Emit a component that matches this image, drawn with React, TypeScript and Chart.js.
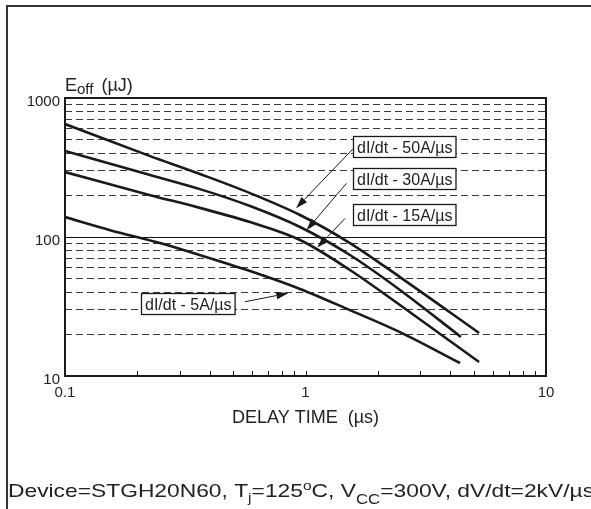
import React, { useEffect, useRef } from "react";
import { Chart, registerables } from "chart.js";

Chart.register(...registerables);

// ---------- data (delay time in µs, Eoff in µJ) ----------
const delayTime50 = [0.1, 0.226, 0.364, 0.588, 0.949, 1.53, 2.47, 5.27];
const eoff50 = [650, 382, 284, 207, 144, 90.5, 51.5, 20.4];

const delayTime30 = [0.1, 0.226, 0.364, 0.588, 0.949, 1.53, 2.47, 4.43];
const eoff30 = [416, 279, 221, 167, 118, 74.2, 41.6, 19.1];

const delayTime15 = [0.1, 0.226, 0.364, 0.588, 0.949, 1.53, 2.47, 5.27];
const eoff15 = [293, 200, 162, 128, 95.1, 57.9, 32.4, 12.6];

const delayTime5 = [0.1, 0.154, 0.248, 0.341, 0.588, 0.949, 1.53, 2.47, 4.39];
const eoff5 = [139, 112, 90.5, 76.7, 56.9, 42.3, 29.8, 20.7, 12.4];

const seriesLabels = ["dI/dt - 50A/µs", "dI/dt - 30A/µs", "dI/dt - 15A/µs", "dI/dt - 5A/µs"];

// ticks
const xTickValues = [0.1, 0.2, 0.3, 0.4, 0.5, 0.6, 0.7, 0.8, 0.9, 1, 2, 3, 4, 5, 6, 7, 8, 9, 10];
const xLabelValues = [0.1, 1, 10];
const yTickValues = [10, 20, 30, 40, 50, 60, 70, 80, 90, 100, 200, 300, 400, 500, 600, 700, 800, 900, 1000];
const yLabelValues = [10, 100, 1000];

// annotation anchors (data units): label box left / vertical centre, arrow tail, arrow tip
const labelBoxX = [1.58, 1.58, 1.58, 0.207];
const labelBoxY = [448, 264, 146, 33.2];
const arrowTailX = [1.57, 1.48, 1.46, 0.56];
const arrowTailY = [428, 243, 136, 34.2];
const arrowTipX = [0.913, 1.01, 1.12, 0.848];
const arrowTipY = [161, 112, 84, 39.4];

const xTitle = "DELAY TIME  (µs)";
const FONT = "'Liberation Sans', Arial, Helvetica, sans-serif";
const INK = "#1a1a1a";

type Part = { t: string; size: number; dy: number; gap?: number };

function drawParts(ctx: CanvasRenderingContext2D, parts: Part[], x: number, y: number) {
  let cx = x;
  for (const p of parts) {
    cx += p.gap || 0;
    ctx.font = `${p.size}px ${FONT}`;
    ctx.fillText(p.t, cx, y + p.dy);
    cx += ctx.measureText(p.t).width;
  }
  return cx;
}

const decorPlugin = {
  id: "decor",
  beforeDraw(chart: any) {
    const ctx: CanvasRenderingContext2D = chart.ctx;
    ctx.save();
    ctx.fillStyle = "#ffffff";
    ctx.fillRect(0, 0, chart.width, chart.height);
    // outer page frame (top and left)
    ctx.strokeStyle = "#333";
    ctx.lineWidth = 2;
    ctx.beginPath();
    ctx.moveTo(7, chart.height);
    ctx.lineTo(7, 6);
    ctx.lineTo(chart.width, 6);
    ctx.stroke();
    ctx.restore();
  },
  afterDatasetsDraw(chart: any) {
    const ctx: CanvasRenderingContext2D = chart.ctx;
    const { left, right, top, bottom } = chart.chartArea;
    const xs = chart.scales.x;
    const ys = chart.scales.y;
    ctx.save();
    // plot frame
    ctx.strokeStyle = INK;
    ctx.lineWidth = 2;
    ctx.strokeRect(left, top, right - left, bottom - top);
    // inward minor ticks on the x axis
    ctx.lineWidth = 1;
    ctx.beginPath();
    for (const v of xTickValues) {
      if (v === xTickValues[0]) continue;
      const px = Math.round(xs.getPixelForValue(v)) + 0.5;
      ctx.moveTo(px, bottom);
      ctx.lineTo(px, bottom - 5);
    }
    ctx.stroke();

    // annotations
    ctx.font = `16px ${FONT}`;
    for (let i = 0; i < seriesLabels.length; i++) {
      const bx = xs.getPixelForValue(labelBoxX[i]);
      const by = ys.getPixelForValue(labelBoxY[i]);
      const tw = ctx.measureText(seriesLabels[i]).width;
      const bw = tw + 7;
      const bh = 21;
      const x0 = Math.round(bx) + 0.5;
      const y0 = Math.round(by - bh / 2) + 0.5;
      // arrow
      const tx = xs.getPixelForValue(arrowTailX[i]);
      const ty = ys.getPixelForValue(arrowTailY[i]);
      const hx = xs.getPixelForValue(arrowTipX[i]);
      const hy = ys.getPixelForValue(arrowTipY[i]);
      const ang = Math.atan2(hy - ty, hx - tx);
      const L = 12, W = 3.8;
      const baseX = hx - L * Math.cos(ang);
      const baseY = hy - L * Math.sin(ang);
      ctx.strokeStyle = INK;
      ctx.lineWidth = 1;
      ctx.beginPath();
      ctx.moveTo(tx, ty);
      ctx.lineTo(baseX, baseY);
      ctx.stroke();
      ctx.fillStyle = INK;
      ctx.beginPath();
      ctx.moveTo(hx, hy);
      ctx.lineTo(baseX + W * Math.sin(ang), baseY - W * Math.cos(ang));
      ctx.lineTo(baseX - W * Math.sin(ang), baseY + W * Math.cos(ang));
      ctx.closePath();
      ctx.fill();
      // box
      ctx.fillStyle = "#fff";
      ctx.fillRect(x0, y0, bw, bh);
      ctx.strokeStyle = INK;
      ctx.lineWidth = 1.3;
      ctx.strokeRect(x0, y0, bw, bh);
      ctx.fillStyle = "#222";
      ctx.textBaseline = "alphabetic";
      ctx.textAlign = "left";
      ctx.fillText(seriesLabels[i], x0 + 3.5, y0 + 16.5);
    }
    ctx.restore();
  },
  afterDraw(chart: any) {
    const ctx: CanvasRenderingContext2D = chart.ctx;
    const { left, top } = chart.chartArea;
    ctx.save();
    ctx.fillStyle = "#222";
    ctx.textBaseline = "alphabetic";
    ctx.textAlign = "left";
    // y-axis title E_off (µJ)
    drawParts(
      ctx,
      [
        { t: "E", size: 18, dy: 0 },
        { t: "off", size: 15, dy: 3 },
        { t: "(µJ)", size: 18, dy: 0, gap: 8 },
      ],
      left,
      top - 7
    );
    // conditions line
    ctx.translate(8, chart.height - 12);
    ctx.scale(1.2, 1);
    drawParts(
      ctx,
      [
        { t: "Device=STGH20N60, T", size: 19, dy: 0 },
        { t: "j", size: 13, dy: 5 },
        { t: "=125", size: 19, dy: 0 },
        { t: "o", size: 13, dy: -7 },
        { t: "C, V", size: 19, dy: 0 },
        { t: "CC", size: 14, dy: 7 },
        { t: "=300V, dV/dt=2kV/µs", size: 19, dy: 0 },
      ],
      0,
      0
    );
    ctx.restore();
  },
};

function toPoints(xs: number[], ys: number[]) {
  return xs.map((x, i) => ({ x, y: ys[i] }));
}

export default function App() {
  const ref = useRef<HTMLCanvasElement | null>(null);

  useEffect(() => {
    if (!ref.current) return;
    const series = [
      toPoints(delayTime50, eoff50),
      toPoints(delayTime30, eoff30),
      toPoints(delayTime15, eoff15),
      toPoints(delayTime5, eoff5),
    ];
    const chart = new Chart(ref.current, {
      type: "line",
      data: {
        datasets: series.map((pts, i) => ({
          label: seriesLabels[i],
          data: pts,
          borderColor: INK,
          borderWidth: 2.6,
          pointRadius: 0,
          fill: false,
          cubicInterpolationMode: "monotone" as const,
        })),
      },
      options: {
        animation: false,
        responsive: false,
        maintainAspectRatio: false,
        devicePixelRatio: 1,
        events: [],
        layout: { padding: { top: 98, right: 45, left: 0, bottom: 0 } },
        plugins: {
          legend: { display: false },
          tooltip: { enabled: false },
          title: { display: false },
        },
        scales: {
          x: {
            type: "logarithmic",
            min: 0.1,
            max: 10,
            afterBuildTicks: (s: any) => {
              s.ticks = xTickValues.map((v) => ({ value: v }));
            },
            afterFit: (s: any) => {
              s.height = 133;
            },
            grid: { display: false, drawTicks: false },
            border: { display: false },
            ticks: {
              autoSkip: false,
              maxRotation: 0,
              minRotation: 0,
              padding: 8,
              color: "#222",
              font: { size: 15, family: FONT },
              callback: (v: any) => (xLabelValues.includes(Number(v)) ? String(Number(v)) : ""),
            },
            title: {
              display: true,
              text: xTitle,
              color: "#222",
              font: { size: 18, family: FONT },
              padding: { top: 0, bottom: 80 },
            },
          },
          y: {
            type: "logarithmic",
            min: 10,
            max: 1000,
            afterBuildTicks: (s: any) => {
              s.ticks = yTickValues.map((v) => ({ value: v }));
            },
            afterFit: (s: any) => {
              s.width = 65;
            },
            grid: {
              drawTicks: false,
              lineWidth: 1,
              color: (c: any) => {
                const v = c.tick ? c.tick.value : 0;
                if (v === 10 || v === 1000) return "rgba(0,0,0,0)";
                if (v === 100) return "#111";
                return "#3a3a3a";
              },
            },
            border: {
              display: false,
              dash: (c: any) => (c.tick && c.tick.value === 100 ? [] : [7, 4]),
            },
            ticks: {
              autoSkip: false,
              padding: 5,
              labelOffset: 4,
              color: "#222",
              font: { size: 15, family: FONT },
              callback: (v: any) => (yLabelValues.includes(Number(v)) ? String(Number(v)) : ""),
            },
          },
        },
      },
      plugins: [decorPlugin],
    } as any);
    return () => chart.destroy();
  }, []);

  return (
    <div style={{ position: "absolute", left: 0, top: 0, width: 591, height: 509, background: "#fff" }}>
      <canvas ref={ref} width={591} height={509} style={{ display: "block", width: 591, height: 509 }} />
    </div>
  );
}
